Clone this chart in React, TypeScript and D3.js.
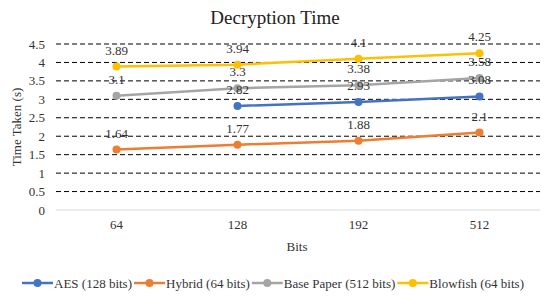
import * as d3 from "d3";
import { useEffect, useRef } from "react";

const categories = ["64", "128", "192", "512"];
const aes = [null, 2.82, 2.93, 3.08];
const hybrid = [1.64, 1.77, 1.88, 2.1];
const basePaper = [3.1, 3.3, 3.38, 3.58];
const blowfish = [3.89, 3.94, 4.1, 4.25];
const yTicks = [0, 0.5, 1, 1.5, 2, 2.5, 3, 3.5, 4, 4.5];

const seriesList = [
  { name: "AES (128 bits)", values: aes, color: "#4472C4" },
  { name: "Hybrid (64 bits)", values: hybrid, color: "#ED7D31" },
  { name: "Base Paper (512 bits)", values: basePaper, color: "#A5A5A5" },
  { name: "Blowfish (64 bits)", values: blowfish, color: "#FFC000" },
];

const FONT = "'Liberation Serif', 'Times New Roman', serif";

function App() {
  const ref = useRef<SVGSVGElement>(null);
  const width = 550;
  const height = 300;
  const margin = { left: 56, right: 10, top: 44, bottom: 90 };

  useEffect(() => {
    const svg = d3.select(ref.current);
    svg.selectAll("*").remove();

    const x = d3
      .scaleBand()
      .domain(categories)
      .range([margin.left, width - margin.right]);
    const y = d3
      .scaleLinear()
      .domain([0, 4.5])
      .range([height - margin.bottom, margin.top]);

    svg
      .append("rect")
      .attr("width", width)
      .attr("height", height)
      .attr("fill", "#fff");

    // gridlines
    svg
      .append("g")
      .selectAll("line")
      .data(yTicks.filter((t) => t > 0))
      .join("line")
      .attr("x1", margin.left)
      .attr("x2", width - margin.right)
      .attr("y1", (d) => y(d))
      .attr("y2", (d) => y(d))
      .attr("stroke", "#000")
      .attr("stroke-width", 1)
      .attr("stroke-dasharray", "5,3");

    svg
      .append("line")
      .attr("x1", margin.left)
      .attr("x2", width - margin.right)
      .attr("y1", y(0))
      .attr("y2", y(0))
      .attr("stroke", "#d9d9d9")
      .attr("stroke-width", 1);

    // y tick labels
    svg
      .append("g")
      .selectAll("text")
      .data(yTicks)
      .join("text")
      .attr("x", 45)
      .attr("y", (d) => y(d) + 4.5)
      .attr("text-anchor", "end")
      .attr("font-family", FONT)
      .attr("font-size", 13)
      .attr("fill", "#333")
      .text((d) => String(d));

    // x tick labels
    svg
      .append("g")
      .selectAll("text")
      .data(categories)
      .join("text")
      .attr("x", (d) => x(d)! + x.bandwidth() / 2)
      .attr("y", 229)
      .attr("text-anchor", "middle")
      .attr("font-family", FONT)
      .attr("font-size", 13)
      .attr("fill", "#333")
      .text((d) => d);

    // titles
    svg
      .append("text")
      .attr("x", 275)
      .attr("y", 24)
      .attr("text-anchor", "middle")
      .attr("font-family", FONT)
      .attr("font-size", 19)
      .attr("fill", "#222")
      .text("Decryption Time");

    svg
      .append("text")
      .attr("x", 297)
      .attr("y", 251)
      .attr("text-anchor", "middle")
      .attr("font-family", FONT)
      .attr("font-size", 13)
      .attr("fill", "#333")
      .text("Bits");

    svg
      .append("text")
      .attr("transform", `translate(21, ${(y(0) + y(4.5)) / 2}) rotate(-90)`)
      .attr("text-anchor", "middle")
      .attr("font-family", FONT)
      .attr("font-size", 13)
      .attr("fill", "#333")
      .text("Time Taken (s)");

    const cx = (i: number) => x(categories[i])! + x.bandwidth() / 2;

    // series
    seriesList.forEach((s) => {
      const pts = s.values
        .map((v, i) => ({ v, i }))
        .filter((p) => p.v !== null) as { v: number; i: number }[];
      const line = d3
        .line<{ v: number; i: number }>()
        .x((p) => cx(p.i))
        .y((p) => y(p.v));
      svg
        .append("path")
        .attr("d", line(pts))
        .attr("fill", "none")
        .attr("stroke", s.color)
        .attr("stroke-width", 2.5);
      svg
        .append("g")
        .selectAll("circle")
        .data(pts)
        .join("circle")
        .attr("cx", (p) => cx(p.i))
        .attr("cy", (p) => y(p.v))
        .attr("r", 4)
        .attr("fill", s.color);
    });

    // data labels
    seriesList.forEach((s) => {
      const pts = s.values
        .map((v, i) => ({ v, i }))
        .filter((p) => p.v !== null) as { v: number; i: number }[];
      svg
        .append("g")
        .selectAll("text")
        .data(pts)
        .join("text")
        .attr("x", (p) => cx(p.i))
        .attr("y", (p) => y(p.v) - 12)
        .attr("text-anchor", "middle")
        .attr("font-family", FONT)
        .attr("font-size", 13)
        .attr("fill", "#333")
        .text((p) => String(p.v));
    });

    // legend
    const legend = svg.append("g");
    let lx = 22;
    const ly = 283;
    seriesList.forEach((s) => {
      legend
        .append("line")
        .attr("x1", lx)
        .attr("x2", lx + 31)
        .attr("y1", ly)
        .attr("y2", ly)
        .attr("stroke", s.color)
        .attr("stroke-width", 2.5);
      legend
        .append("circle")
        .attr("cx", lx + 15.5)
        .attr("cy", ly)
        .attr("r", 4)
        .attr("fill", s.color);
      const t = legend
        .append("text")
        .attr("x", lx + 32)
        .attr("y", ly + 4.5)
        .attr("font-family", FONT)
        .attr("font-size", 13)
        .attr("fill", "#333")
        .text(s.name);
      const w = (t.node() as SVGTextElement).getComputedTextLength();
      lx += 32 + w + 2;
    });
  }, []);

  return (
    <svg
      ref={ref}
      width={width}
      height={height}
      style={{ position: "absolute", left: 0, top: 0 }}
    />
  );
}

export default App;
